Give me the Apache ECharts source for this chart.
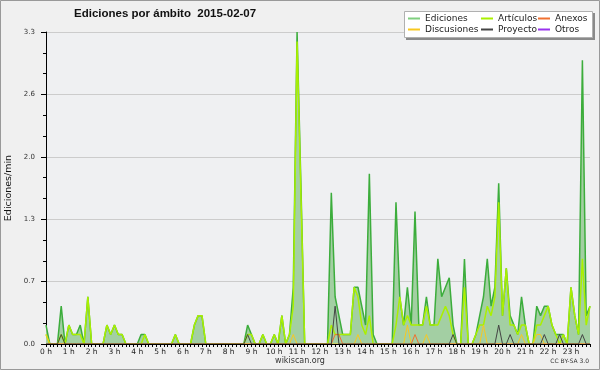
<!DOCTYPE html>
<html><head><meta charset="utf-8">
<script src="https://cdn.jsdelivr.net/npm/echarts@6/dist/echarts.min.js"></script>
<style>html,body{margin:0;padding:0;background:#f0f0f0}#c{width:600px;height:370px}</style>
</head><body><div id="c"></div>
<script>
const hourLabels = ['0 h','1 h','2 h','3 h','4 h','5 h','6 h','7 h','8 h','9 h','10 h','11 h','12 h','13 h','14 h','15 h','16 h','17 h','18 h','19 h','20 h','21 h','22 h','23 h'];
const yTicks = [0, 0.66, 1.32, 1.98, 2.64, 3.3];
// values per 10-minute slot (edits/min)
const ediciones = [
.2,0,0,0,.4,0,.2,.1,.1,.2,0,.5,
0,0,0,0,.2,.1,.2,.1,.1,0,0,0,
0,.1,.1,0,0,0,0,0,0,0,.1,0,
0,0,0,.2,.3,.3,0,0,0,0,0,0,
0,0,0,0,0,.2,.1,0,0,.1,0,0,
.1,0,.3,0,.1,.6,3.3,1.7,0,0,0,0,
0,0,0,1.6,.5,.3,.1,.1,.1,.6,.6,.4,
.2,1.8,.1,0,0,0,0,0,1.5,.5,.2,.6,
.2,1.4,.2,.2,.5,.2,.2,.9,.5,.6,.7,.2,
0,0,.9,0,0,.1,.3,.5,.9,.4,.6,1.7,
.3,.8,.3,.2,.1,.5,.2,0,0,.4,.3,.4,
.4,.2,.1,.1,.1,0,.6,.3,.1,3.0,.3,.4];
const articulos = [
.1,0,0,0,.1,0,.2,.1,.1,.1,0,.5,
0,0,0,0,.2,.1,.2,.1,.1,0,0,0,
0,0,.1,0,0,0,0,0,0,0,.1,0,
0,0,0,.2,.3,.3,0,0,0,0,0,0,
0,0,0,0,0,.1,.1,0,0,.1,0,0,
.1,0,.3,0,.1,.4,3.2,1.6,0,0,0,0,
0,0,0,.2,.1,.1,.1,.1,.1,.6,.5,.2,
.1,.3,0,0,0,0,0,0,.2,.5,.2,.3,
.2,.2,.2,.2,.4,.2,.2,.2,.3,.4,.3,.1,
0,0,.6,0,0,.1,.2,.2,.4,.3,.5,1.5,
.3,.8,.2,.2,.1,.2,.2,0,0,.2,.2,.3,
.4,.2,.1,0,.1,0,.6,.3,.1,.9,.2,.4];
const anexos = [
0,0,0,0,0,0,0,0,0,0,0,0, 0,0,0,0,0,0,0,0,0,0,0,0,
0,0,0,0,0,0,0,0,0,0,0,0, 0,0,0,0,0,0,0,0,0,0,0,0,
0,0,0,0,0,0,0,0,0,0,0,0, 0,0,0,0,0,0,0,0,0,0,0,0,
0,0,0,0,.1,.1,0,0,0,0,0,0, 0,0,0,0,0,0,0,0,0,0,0,0,
0,.1,0,0,0,0,0,0,0,0,0,0, 0,0,0,0,0,0,0,0,0,0,0,0,
0,0,0,0,0,0,0,0,0,0,0,0, 0,0,0,0,0,0,0,0,0,0,0,0];
const discusiones = [
.1,0,0,0,0,0,0,0,0,0,0,0, 0,0,0,0,0,0,0,0,0,0,0,0,
0,0,0,0,0,0,0,0,0,0,0,0, 0,0,0,0,0,0,0,0,0,0,0,0,
0,0,0,0,0,0,0,0,0,0,0,0, 0,0,0,0,0,.1,0,0,0,0,0,0,
0,0,0,0,0,0,0,0,0,0,.1,0, 0,0,0,0,0,0,0,0,0,0,0,.2,
0,0,0,0,.1,0,0,0,0,0,0,0, 0,0,0,0,0,0,0,.2,0,0,0,0,
0,0,0,0,0,.1,0,0,0,.1,.1,0, 0,0,0,0,0,0,0,0,0,0,0,0];
const proyecto = [
0,0,0,0,.1,0,0,0,0,0,0,0, 0,0,0,0,0,0,0,0,0,0,0,0,
0,0,0,0,0,0,0,0,0,0,0,0, 0,0,0,0,0,0,0,0,0,0,0,0,
0,0,0,0,0,.1,0,0,0,0,0,0, 0,0,0,0,0,0,0,0,0,0,0,0,
0,0,0,0,.4,0,0,0,0,0,0,0, 0,0,0,0,0,0,0,0,0,0,0,0,
0,0,0,0,0,0,0,0,0,0,0,.1, 0,0,0,0,0,0,0,0,0,0,0,.2,
0,0,.1,0,0,0,0,0,0,0,0,.1, 0,0,0,.1,0,0,0,0,0,.1,0,0];
const otros = new Array(144).fill(0);

const chart = echarts.init(document.getElementById('c'));
const pts = a => a.map((v,i)=>[i,v]);
function line(name, data, color, width, z, area){
  const s = {name, type:'line', data:pts(data), showSymbol:false, symbol:'none', z,
    lineStyle:{color, width}, itemStyle:{color}, animation:false};
  if(area) s.areaStyle = {color:area, opacity:1};
  return s;
}
const font = 'DejaVu Sans';
const legendBase = {orient:'vertical', top:13, padding:0, itemWidth:12, itemHeight:2, itemGap:0, icon:'rect',
  textStyle:{fontFamily:font, fontSize:9, color:'#222', lineHeight:11}, selectedMode:false};
chart.setOption({
  backgroundColor:'#f0f0f0',
  animation:false,
  title:{text:'Ediciones por ámbito  2015-02-07', left:74, top:8, padding:0,
    textStyle:{fontFamily:'Liberation Sans', fontWeight:'bold', fontSize:11.5, color:'#111'}},
  legend:[
    Object.assign({left:408, data:[{name:'Ediciones', itemStyle:{color:'#7fcf7f'}},'Discusiones']}, legendBase),
    Object.assign({left:481, data:['Artículos','Proyecto']}, legendBase),
    Object.assign({left:538, data:['Anexos','Otros']}, legendBase)
  ],
  grid:{left:46, right:10, top:32, bottom:26, show:true, backgroundColor:'#eff0f2', borderWidth:0,
    containLabel:false, outerBoundsMode:'none'},
  xAxis:{type:'value', min:0, max:143, interval:6, z:10,
    axisLine:{lineStyle:{color:'#000', width:1}},
    axisTick:{show:true, length:3, lineStyle:{color:'#000'}},
    minorTick:{show:true, splitNumber:6, length:3, lineStyle:{color:'#000'}},
    splitLine:{show:false},
    axisLabel:{margin:4, fontFamily:font, fontSize:7.5, color:'#222', showMaxLabel:false,
      formatter:v => (v % 6 === 0 && v/6 < hourLabels.length) ? hourLabels[v/6] : ''}},
  yAxis:{type:'value', min:yTicks[0], max:yTicks[yTicks.length-1], interval:0.66,
    name:'Ediciones/min', nameLocation:'middle', nameGap:32, nameMoveOverlap:false,
    nameTextStyle:{fontFamily:font, fontSize:9.5, color:'#111'},
    axisLine:{show:true, lineStyle:{color:'#000', width:1}},
    axisTick:{show:true, length:5, lineStyle:{color:'#000'}},
    minorTick:{show:true, splitNumber:3, length:3, lineStyle:{color:'#000'}},
    splitLine:{show:true, lineStyle:{color:'#cccccc', width:1}},
    axisLabel:{margin:11, fontFamily:font, fontSize:7, color:'#333', formatter:v => v.toFixed(1)}},
  series:[
    line('Ediciones', ediciones, '#3cad3c', 1.5, 2, '#a3cfa3'),
    line('Artículos', articulos, '#aaf000', 1.5, 3),
    line('Anexos', anexos, '#f07030', 1, 5),
    line('Discusiones', discusiones, '#f8c820', 1, 4),
    line('Proyecto', proyecto, '#444444', 1, 6),
    line('Otros', otros, '#9933ee', 1, 1)
  ],
  graphic:{elements:[
    {type:'rect', z:0, silent:true, shape:{x:0.5, y:0.5, width:599, height:369}, style:{fill:null, stroke:'#999', lineWidth:1}},
    {type:'rect', z:1, silent:true, shape:{x:406, y:13, width:189, height:27}, style:{fill:'#8a8a8a'}},
    {type:'rect', z:2, silent:true, shape:{x:404.5, y:11.5, width:188, height:26}, style:{fill:'#ffffff', stroke:'#b0b0b0', lineWidth:1}},
    {type:'text', z:3, silent:true, x:300, y:361, style:{text:'wikiscan.org', font:'8px "DejaVu Sans"', fill:'#333', align:'center', verticalAlign:'middle', textAlign:'center', textVerticalAlign:'middle'}},
    {type:'text', z:3, silent:true, x:589, y:361, style:{text:'CC BY-SA 3.0', font:'6px "DejaVu Sans"', fill:'#333', align:'right', verticalAlign:'middle', textAlign:'right', textVerticalAlign:'middle'}}
  ]}
});
</script></body></html>
